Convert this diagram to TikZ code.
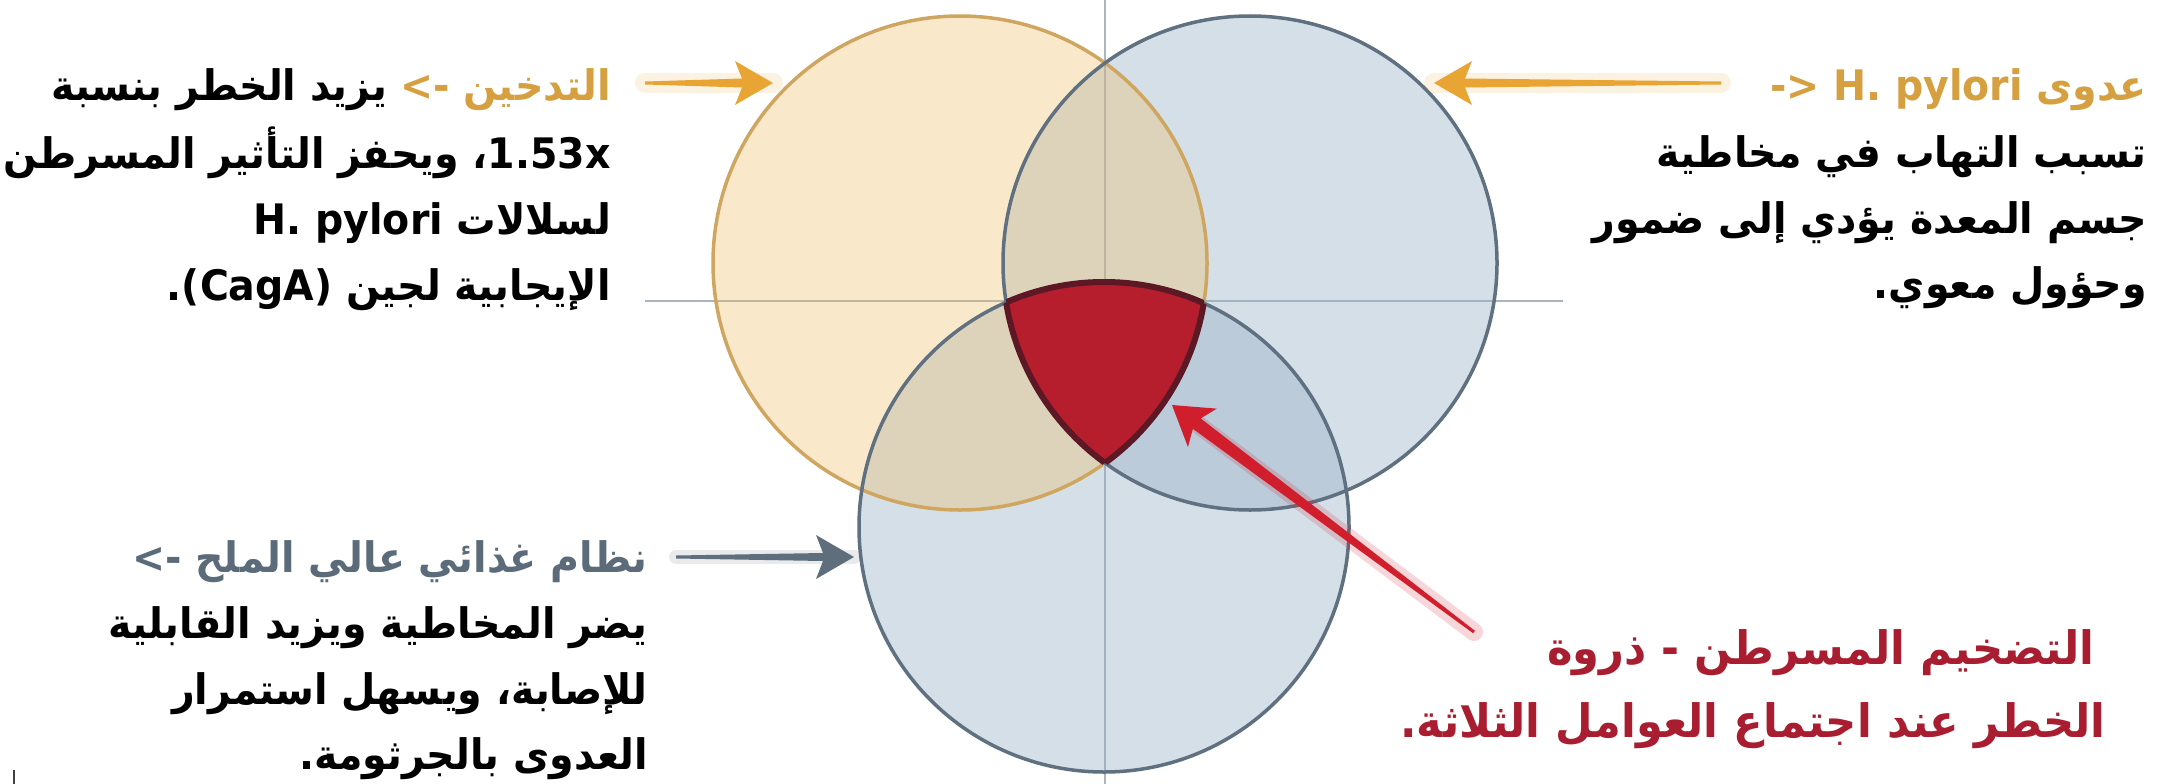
\documentclass[tikz,border=0pt]{standalone}
\usepackage{fontspec}
\usetikzlibrary{arrows.meta,calc}
\TeXXeTstate=1
\newfontfamily\arabicfont[Script=Arabic, FakeStretch=0.94]{DejaVu Sans}
\newfontfamily\latinfont[FakeStretch=0.94]{DejaVu Sans}
\definecolor{orgtxt}{RGB}{214,160,64}
\definecolor{orgarrow}{RGB}{233,165,52}
\definecolor{slatetxt}{RGB}{92,107,122}
\definecolor{slatearrow}{RGB}{94,110,125}
\definecolor{redtxt}{RGB}{168,30,48}
\definecolor{redarrow}{RGB}{208,30,45}
\definecolor{orgfill}{RGB}{238,186,92}
\definecolor{bluefill}{RGB}{150,175,198}
\definecolor{orgline}{RGB}{207,166,96}
\definecolor{blueline}{RGB}{95,112,128}
\definecolor{gridline}{RGB}{170,181,192}
\definecolor{redfill}{RGB}{182,30,45}
\definecolor{redline}{RGB}{92,24,37}
\newcommand\taperarrow[5]{%
  \coordinate (tb) at ($(#3)!38pt!(#2)$);
  \coordinate (ti) at ($(#3)!31pt!(#2)$);
  \fill[#1] ($(#2)!1.5pt!90:(#3)$) -- ($(ti)!#4!90:(#3)$) -- ($(tb)!#5!90:(#3)$) -- (#3)
    -- ($(tb)!#5!-90:(#3)$) -- ($(ti)!#4!-90:(#3)$) -- ($(#2)!1.5pt!-90:(#3)$) -- cycle;}
\begin{document}
\begin{tikzpicture}[x=1pt,y=-1pt,
  body/.style={font=\arabicfont\bfseries\fontsize{42}{50}\selectfont, inner sep=0pt, anchor=base east, text=black},
  headtxt/.style={body},
  arrowtxt/.style={font=\latinfont\bfseries\fontsize{42}{50}\selectfont, inner sep=0pt, anchor=base east},
  redtext/.style={font=\arabicfont\bfseries\fontsize{46}{54}\selectfont, inner sep=0pt, anchor=base, text=redtxt},
  glow/.style={line width=#1, line cap=round, draw opacity=0.14},
  gridstyle/.style={draw=gridline, line width=2pt},
  circline/.style={draw=#1, line width=3.5pt}]
\useasboundingbox (0,0) rectangle (2169,784);
\fill[white] (0,0) rectangle (2169,784);

% grid
\draw[gridstyle] (1105,0) -- (1105,784);
\draw[gridstyle] (645,301) -- (1563,301);

% circle fills
\fill[bluefill, fill opacity=0.4] (1250,263) circle[radius=247pt];
\fill[bluefill, fill opacity=0.4] (1104,527) circle[radius=245pt];
\fill[orgfill, fill opacity=0.32] (960,263) circle[radius=247pt];

% circle outlines
\draw[circline=orgline] (960,263) circle[radius=247pt];
\draw[circline=blueline] (1250,263) circle[radius=247pt];
\draw[circline=blueline] (1104,527) circle[radius=245pt];

% triple intersection
\begin{scope}
  \clip (960,263) circle[radius=247pt];
  \clip (1250,263) circle[radius=247pt];
  \fill[redfill] (1104,527) circle[radius=245pt];
  \draw[redline, line width=6pt] (1104,527) circle[radius=245pt];
\end{scope}
\begin{scope}
  \clip (960,263) circle[radius=247pt];
  \clip (1104,527) circle[radius=245pt];
  \draw[redline, line width=6pt] (1250,263) circle[radius=247pt];
\end{scope}
\begin{scope}
  \clip (1250,263) circle[radius=247pt];
  \clip (1104,527) circle[radius=245pt];
  \draw[redline, line width=6pt] (960,263) circle[radius=247pt];
\end{scope}

% text: top left
\node[headtxt, text=orgtxt] (tl1a) at (611,100) {\beginR التدخين\endR};
\node[arrowtxt, text=orgtxt] (tl1arr) at ([xshift=-13pt]tl1a.base west) {<-};
\node[body] (tl1b) at ([xshift=-13pt]tl1arr.base west) {\beginR يزيد الخطر بنسبة\endR};
\node[body] (tl2) at (611,168) {\beginR\beginL 1.53x\endL، ويحفز التأثير المسرطن\endR};
\node[body] (tl3) at (611,234) {\beginR لسلالات \beginL H. pylori\endL\endR};
\node[body] (tl4) at (611,300) {\beginR الإيجابية لجين \beginL(CagA)\endL.\endR};

% text: top right
\node[headtxt, text=orgtxt] (tr1a) at (2147,100) {\beginR عدوى\endR};
\node[arrowtxt, text=orgtxt] (tr1b) at ([xshift=-13pt]tr1a.base west) {-> H. pylori};
\node[body] (tr2) at (2147,167) {\beginR تسبب التهاب في مخاطية\endR};
\node[body] (tr3) at (2147,233) {\beginR جسم المعدة يؤدي إلى ضمور\endR};
\node[body] (tr4) at (2147,298) {\beginR وحؤول معوي.\endR};

% text: bottom left
\node[headtxt, text=slatetxt] (bl1a) at (648,572) {\beginR نظام غذائي عالي الملح\endR};
\node[arrowtxt, text=slatetxt] (bl1b) at ([xshift=-13pt]bl1a.base west) {<-};
\node[body] (bl2) at (648,638) {\beginR يضر المخاطية ويزيد القابلية\endR};
\node[body] (bl3) at (648,704) {\beginR للإصابة، ويسهل استمرار\endR};
\node[body] (bl4) at (648,769) {\beginR العدوى بالجرثومة.\endR};

% text: bottom right
\node[redtext] (br1) at (1821,664) {\beginR التضخيم المسرطن - ذروة\endR};
\node[redtext] (br2) at (1753,737) {\beginR الخطر عند اجتماع العوامل الثلاثة.\endR};

% arrows
\coordinate (a1s) at (645,83);  \coordinate (a1e) at (773,83);
\coordinate (a2s) at (1721,83); \coordinate (a2e) at (1434,83);
\coordinate (a3s) at (676,557); \coordinate (a3e) at (854,557);
\coordinate (rt) at (1474,632); \coordinate (rh) at (1172,405);
\draw[orgarrow, glow=20pt] (a1s) -- (a1e);
\draw[orgarrow, glow=20pt] (a2s) -- (a2e);
\draw[slatearrow, glow=14pt] (a3s) -- (a3e);
\draw[redarrow, glow=18pt, draw opacity=0.18] (rt) -- ($(rh)!20pt!(rt)$);
\taperarrow{orgarrow}{a1s}{a1e}{4.5pt}{22pt}
\taperarrow{orgarrow}{a2s}{a2e}{4.5pt}{22pt}
\taperarrow{slatearrow}{a3s}{a3e}{4pt}{22pt}
\taperarrow{redarrow}{rt}{rh}{6.5pt}{24pt}

% small mark at lower left edge
\draw[black!75, line width=2.5pt] (14,770) -- (14,784);
\end{tikzpicture}
\end{document}
